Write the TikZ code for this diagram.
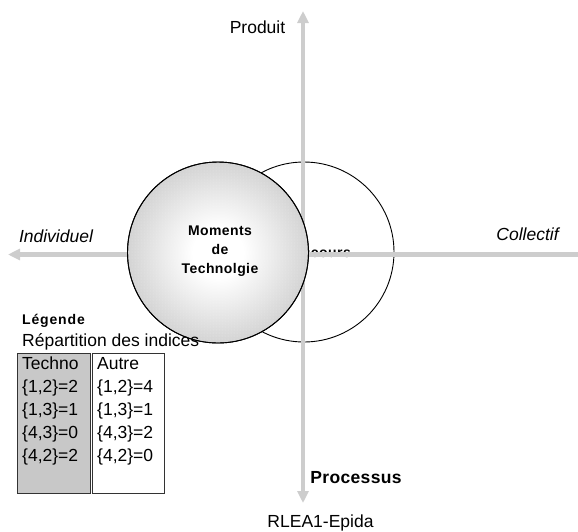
\documentclass[tikz,border=0pt]{standalone}
\usepackage{fontspec}
\setmainfont{Liberation Sans}
\usetikzlibrary{arrows.meta,patterns}
\definecolor{axisgray}{HTML}{CDCDCD}
\definecolor{boxgray}{HTML}{C8C8C8}
\pgfdeclareradialshading{techshade}{\pgfpoint{0bp}{0bp}}{color(0bp)=(white); color(7bp)=(white); color(28bp)=(black!20); color(50bp)=(black!30)}
\tikzset{
  axisline/.style={draw=axisgray, line width=4.5pt},
  axtip/.style={-{Triangle[length=12pt,width=11pt]}},
  lbl/.style={font=\fontsize{17.5}{20}\selectfont, inner sep=0pt},
  boldlbl/.style={font=\fontsize{14}{19}\selectfont\bfseries\addfontfeatures{LetterSpace=3}, inner sep=0pt},
  legbox/.style={draw=black!80, line width=0.8pt},
}
\begin{document}
\begin{tikzpicture}[x=1pt,y=-1pt]
\useasboundingbox (0,0) rectangle (578,531);
% white circle
\node[circle, draw=black, line width=0.9pt, fill=white, minimum size=180pt, inner sep=0pt] (autre) at (304,252) {};
\node[boldlbl, anchor=base east] (disc) at (351,257) {Discours};
% axes
\coordinate (top) at (303,11);
\coordinate (bot) at (303,503);
\coordinate (lft) at (8,254.5);
\coordinate (rgt) at (578,254.5);
\draw[axisline, {Triangle[length=12pt,width=11pt]}-{Triangle[length=12pt,width=11pt]}] (top) -- (bot);
\draw[axisline, axtip] (rgt) -- (lft);
% gray circle
\node[circle, draw=black, line width=0.9pt, shading=techshade, minimum size=181pt, inner sep=0pt] (techno) at (218,252.5) {};
\fill[pattern=dots, pattern color=white, opacity=0.35] (218,252.5) circle (90pt);
\draw[black, line width=0.9pt] (218,252.5) circle (90.5pt);
\node[boldlbl, align=center] (mtxt) at (220,251) {Moments\\de\\Technolgie};
% axis labels
\node[lbl, anchor=base] (produit) at (257.5,33) {Produit};
\node[lbl, anchor=base] (indiv) at (56,242) {\itshape Individuel};
\node[lbl, anchor=base] (coll) at (527.5,240) {\itshape Collectif};
\node[lbl, anchor=base, font=\fontsize{17.5}{20}\selectfont\bfseries\addfontfeatures{LetterSpace=2}] (proc) at (356,483) {Processus};
\node[lbl, anchor=base] (rlea) at (320.5,527) {RLEA1-Epida};
% legend
\node[inner sep=0pt, anchor=base west, font=\fontsize{14}{16}\selectfont\bfseries\addfontfeatures{LetterSpace=6}] (leg) at (22,324) {Légende};
\draw[legbox, fill=boxgray] (17,353) rectangle (90,493);
\draw[legbox, fill=white] (92,353) rectangle (164,493);
\node[lbl, anchor=base west] (rep) at (22,346) {Répartition des indices};
\node[lbl, anchor=base west] (t0) at (22,369) {Techno};
\node[lbl, anchor=base west] (t1) at (22,392) {\{1,2\}=2};
\node[lbl, anchor=base west] (t2) at (22,415) {\{1,3\}=1};
\node[lbl, anchor=base west] (t3) at (22,438) {\{4,3\}=0};
\node[lbl, anchor=base west] (t4) at (22,461) {\{4,2\}=2};
\node[lbl, anchor=base west] (a0) at (97,369) {Autre};
\node[lbl, anchor=base west] (a1) at (97,392) {\{1,2\}=4};
\node[lbl, anchor=base west] (a2) at (97,415) {\{1,3\}=1};
\node[lbl, anchor=base west] (a3) at (97,438) {\{4,3\}=2};
\node[lbl, anchor=base west] (a4) at (97,461) {\{4,2\}=0};
\end{tikzpicture}
\end{document}
